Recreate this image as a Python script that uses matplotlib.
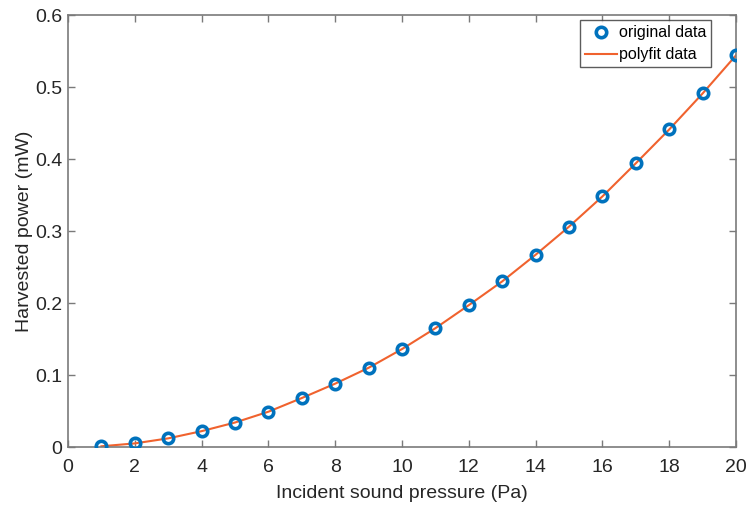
import matplotlib
matplotlib.use("Agg")
import matplotlib.pyplot as plt
import numpy as np

# sound pressure (Pa) vs harvested power (mW)
pressure = [1, 2, 3, 4, 5, 6, 7, 8, 9, 10, 11, 12, 13, 14, 15, 16, 17, 18, 19, 20]
power = [0.001, 0.005, 0.012, 0.022, 0.034, 0.049, 0.068, 0.088, 0.110, 0.136,
         0.165, 0.197, 0.230, 0.267, 0.306, 0.348, 0.394, 0.441, 0.491, 0.544]
xticks = [0, 2, 4, 6, 8, 10, 12, 14, 16, 18, 20]
yticks = [0, 0.1, 0.2, 0.3, 0.4, 0.5, 0.6]

plt.rcParams['font.family'] = ['Liberation Sans', 'DejaVu Sans']

fig = plt.figure(figsize=(7.47, 5.07), dpi=100)
ax = fig.add_axes([68 / 747, 1 - 447 / 507, 668 / 747, 432 / 507])

ax.plot(pressure, power, 'o', color='#0072BD', markerfacecolor='none',
        markeredgewidth=2.6, markersize=7.5, label='original data', zorder=3)
ax.plot(pressure, power, '-', color='#F0622E', linewidth=1.5,
        label='polyfit data', zorder=2)

ax.set_xlim(0, 20)
ax.set_ylim(0, 0.6)
ax.set_xticks(xticks)
ax.set_yticks(yticks)
ax.set_yticklabels(['0', '0.1', '0.2', '0.3', '0.4', '0.5', '0.6'])

spine_col = '#7a7a7a'
for s in ax.spines.values():
    s.set_color(spine_col)
    s.set_linewidth(1.2)
ax.tick_params(direction='in', top=True, right=True, length=5, width=1.0,
               color=spine_col, labelsize=14, labelcolor='#262626')
ax.tick_params(axis='x', pad=9)
ax.tick_params(axis='y', pad=4)

ax.set_xlabel('Incident sound pressure (Pa)', fontsize=14, color='#262626', labelpad=6)
ax.set_ylabel('Harvested power (mW)', fontsize=14, color='#262626', labelpad=1.5)

leg = ax.legend(loc='upper right', bbox_to_anchor=(0.968, 0.995), fontsize=11.5,
                frameon=True, fancybox=False, borderpad=0.3, labelspacing=0.45,
                handlelength=2.0, handletextpad=0.15, borderaxespad=0.2)
leg.get_frame().set_edgecolor('#333333')
leg.get_frame().set_linewidth(1.0)

fig.savefig('out.png', dpi=100)
